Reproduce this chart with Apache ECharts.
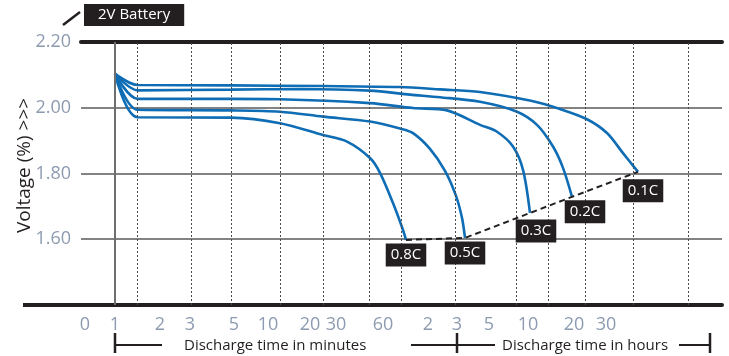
<!DOCTYPE html>
<html><head><meta charset="utf-8">
<script src="https://cdn.jsdelivr.net/npm/echarts@6/dist/echarts.min.js"></script>
<style>html,body{margin:0;padding:0;background:#fff}#c{width:729px;height:356px}</style>
</head><body><div id="c"></div>
<script>
// x values are positions along the (non-uniform) discharge-time axis
const rateNames = ['0.1C', '0.2C', '0.3C', '0.5C', '0.8C'];
const curve01C = [[115,2.103],[137.7,2.069],[231,2.068],[323,2.066],[400,2.063],[440,2.056],[480,2.048],[531,2.021],[560,1.996],[587,1.965],[607,1.923],[623,1.862],[638,1.805]];
const curve02C = [[115,2.103],[137.7,2.053],[231,2.055],[300,2.057],[370,2.052],[410,2.040],[440,2.032],[480,2.018],[517,1.988],[537,1.948],[553,1.882],[563,1.817],[572,1.729]];
const curve03C = [[115,2.103],[137.7,2.027],[231,2.027],[280,2.026],[370,2.014],[413,1.999],[447,1.992],[480,1.948],[497,1.927],[513,1.882],[523,1.811],[530,1.680]];
const curve05C = [[115,2.103],[137.7,1.994],[231,1.992],[280,1.988],[323,1.973],[370,1.958],[400,1.937],[413,1.923],[430,1.875],[445,1.808],[456,1.732],[462,1.665],[465,1.604]];
const curve08C = [[115,2.103],[137.7,1.971],[231,1.970],[280,1.953],[323,1.917],[347,1.897],[370,1.847],[380,1.802],[393,1.710],[403,1.628],[406,1.598]];
const curves = [curve01C, curve02C, curve03C, curve05C, curve08C];

const xTickPos = [85,115,160,190,234,268,310,336,383,428,457,489,528,574,606];
const xTickText = ['0','1','2','3','5','10','20','30','60','2','3','5','10','20','30'];
const gridLineX = [137.7,191,231,280,323.7,369.7,401.7,455,516,548.7,585,633,688.7];
const originLineX = 114.5;
const yTicks = { min: 1.4, max: 2.2, interval: 0.2 };

// label offsets (style)
const labelOffsets = { '0.1C': [5, 19], '0.2C': [13, 15], '0.3C': [6, 18], '0.5C': [0, 15], '0.8C': [0, 15] };

const FONT = '"Open Sans", "Noto Sans", sans-serif';
const DARK = '#231f20';
const BLUE = '#0e6db4';
const TICKC = '#8d9bb1';

const endPoints = curves.map((c, i) => ({ name: rateNames[i], value: c[c.length - 1] }));
const dashedPts = endPoints.map(p => p.value).sort((a, b) => a[0] - b[0]);

const series = [];
series.push({
  type: 'line', data: dashedPts, showSymbol: false, silent: true, z: 1,
  lineStyle: { opacity: 0 },
  markLine: {
    silent: true, symbol: 'none', label: { show: false }, animation: false,
    data: [
      { xAxis: originLineX, lineStyle: { color: '#6e6e6e', width: 2, type: 'solid' } },
      ...gridLineX.map(x => ({ xAxis: x, lineStyle: { color: '#4a4a4a', width: 1, type: [2, 2] } }))
    ]
  }
});
curves.forEach((c, i) => {
  series.push({
    type: 'line', name: rateNames[i], data: c, showSymbol: false, smooth: 0.3,
    z: 3, lineStyle: { color: BLUE, width: 2.6 }, animation: false
  });
});
series.push({
  type: 'line', data: dashedPts, showSymbol: false, z: 4, animation: false,
  lineStyle: { color: DARK, width: 2, type: [6, 4] }
});
series.push({
  type: 'scatter', symbolSize: 0, z: 6, animation: false, itemStyle: { opacity: 1 },
  data: endPoints.map(p => ({
    name: p.name, value: p.value,
    label: {
      show: true, position: 'inside', offset: labelOffsets[p.name], formatter: '{b}',
      color: '#fff', backgroundColor: DARK, fontSize: 15, fontFamily: FONT, opacity: 1,
      padding: [4, 5, 3, 5], lineHeight: 16
    }
  }))
});

const option = {
  animation: false,
  title: {
    text: '2V Battery', left: 84, top: 4, backgroundColor: DARK, padding: [3, 14, 3, 14],
    textStyle: { color: '#fff', fontSize: 15, fontWeight: 'normal', fontFamily: FONT, lineHeight: 16 }
  },
  grid: { left: 81, right: 7, top: 42, bottom: 51, outerBoundsMode: 'none', containLabel: false },
  xAxis: [
    {
      type: 'value', min: 81, max: 722, position: 'bottom',
      axisLine: { lineStyle: { color: DARK, width: 4 } },
      axisTick: { show: false }, splitLine: { show: false },
      axisLabel: {
        customValues: xTickPos,
        formatter: v => xTickText[xTickPos.indexOf(v)] ?? '',
        color: TICKC, fontSize: 18, fontFamily: FONT, margin: 11
      }
    },
    {
      type: 'value', min: 81, max: 722, position: 'top',
      axisLine: { lineStyle: { color: DARK, width: 4 } },
      axisTick: { show: false }, splitLine: { show: false }, axisLabel: { show: false }
    }
  ],
  yAxis: {
    type: 'value', min: yTicks.min, max: yTicks.max, interval: yTicks.interval,
    axisLine: { show: false }, axisTick: { show: false },
    splitLine: { lineStyle: { color: '#5a5a5a', width: 1.5 } },
    axisLabel: {
      formatter: v => Math.abs(v - yTicks.min) < 1e-6 ? '' : v.toFixed(2),
      color: TICKC, fontSize: 18, fontFamily: FONT, margin: 10
    },
    name: 'Voltage (%) >>>', nameLocation: 'middle', nameGap: 47, nameRotate: 90, nameMoveOverlap: false,
    nameTextStyle: { color: DARK, fontSize: 19, fontFamily: FONT, padding: [0, 0, 0, 16] }
  },
  graphic: [
    { type: 'line', shape: { x1: 63, y1: 25, x2: 80, y2: 12 }, style: { stroke: DARK, lineWidth: 2.5 } },
    { type: 'line', shape: { x1: 23, y1: 305, x2: 83, y2: 305 }, style: { stroke: DARK, lineWidth: 4 } },
    { type: 'line', shape: { x1: 115, y1: 333, x2: 115, y2: 353 }, style: { stroke: DARK, lineWidth: 2.5 } },
    { type: 'line', shape: { x1: 115, y1: 345, x2: 162, y2: 345 }, style: { stroke: DARK, lineWidth: 2 } },
    { type: 'text', x: 184, y: 346, style: { text: 'Discharge time in minutes', fill: DARK, font: '15px ' + FONT, verticalAlign: 'middle' } },
    { type: 'line', shape: { x1: 411, y1: 345, x2: 495, y2: 345 }, style: { stroke: DARK, lineWidth: 2 } },
    { type: 'line', shape: { x1: 457, y1: 333, x2: 457, y2: 353 }, style: { stroke: DARK, lineWidth: 2.5 } },
    { type: 'text', x: 502, y: 346, style: { text: 'Discharge time in hours', fill: DARK, font: '15px ' + FONT, verticalAlign: 'middle' } },
    { type: 'line', shape: { x1: 679, y1: 345, x2: 710, y2: 345 }, style: { stroke: DARK, lineWidth: 2 } },
    { type: 'line', shape: { x1: 710, y1: 333, x2: 710, y2: 353 }, style: { stroke: DARK, lineWidth: 2.5 } }
  ],
  series
};
const chart = echarts.init(document.getElementById('c'));
chart.setOption(option);
</script>
</body></html>
